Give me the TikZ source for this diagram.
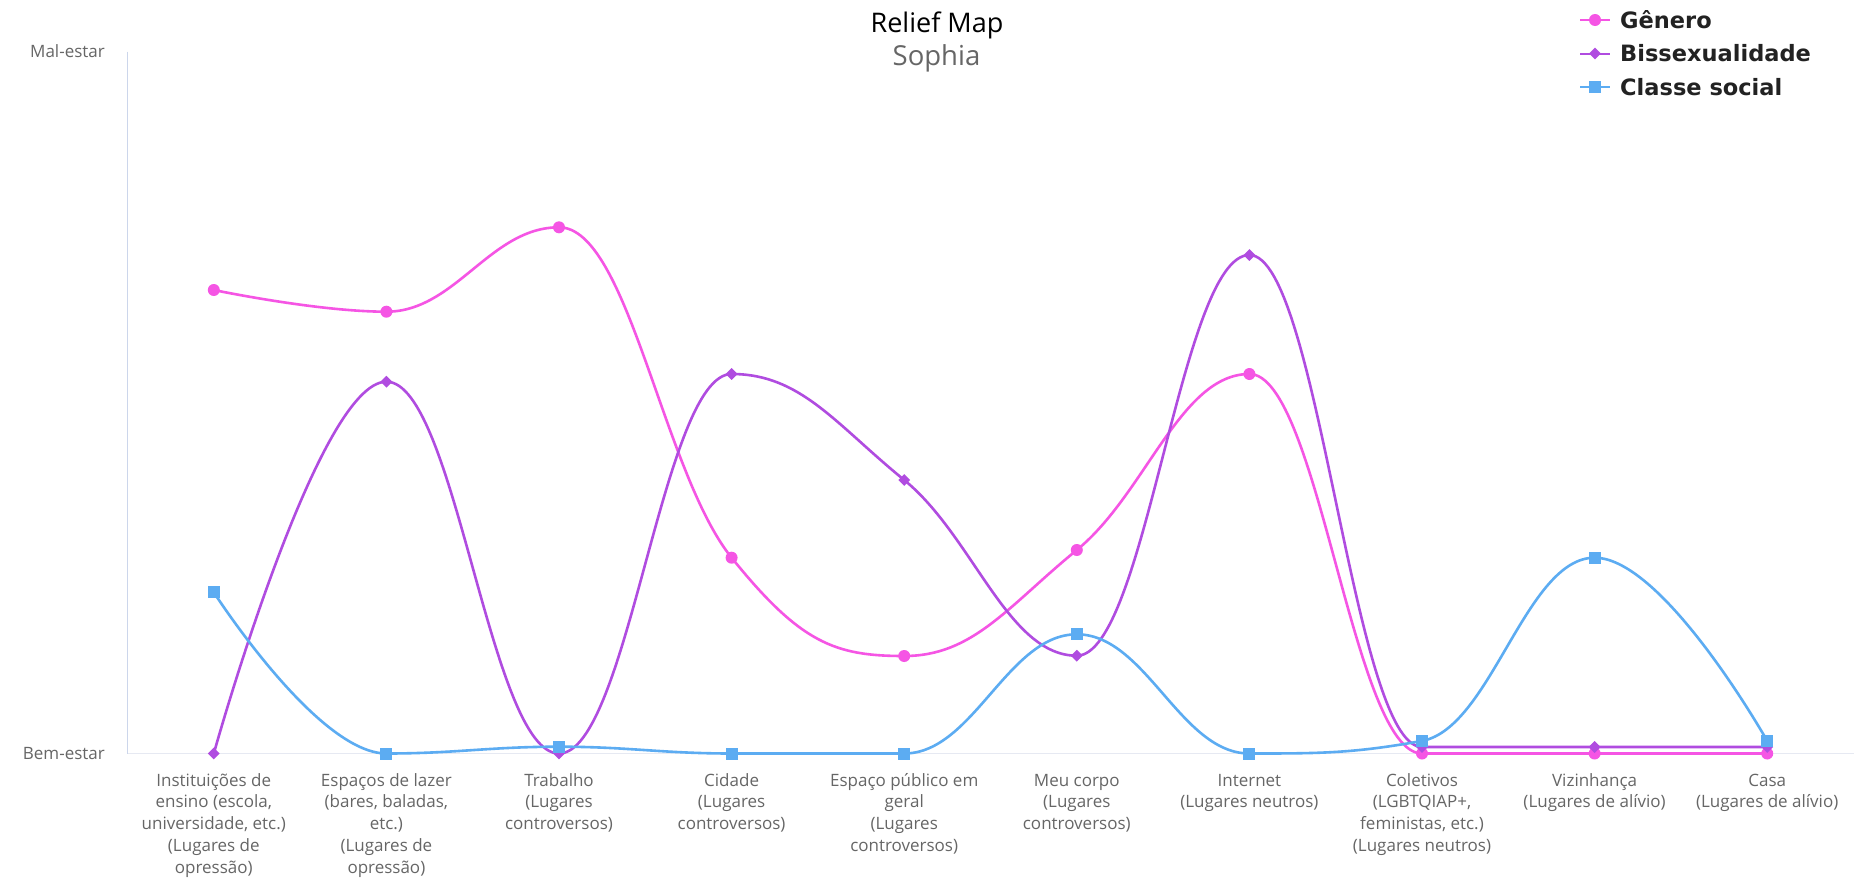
\documentclass[tikz,border=0pt]{standalone}
\usepackage{fontspec}
\setmainfont{Open Sans}
\newfontfamily\legendfont{DejaVu Sans}
\usetikzlibrary{shapes.geometric}

\definecolor{genero}{RGB}{245,85,228}
\definecolor{bissex}{RGB}{176,76,224}
\definecolor{classe}{RGB}{92,172,242}
\definecolor{axisgray}{RGB}{204,214,235}
\definecolor{gridgray}{RGB}{230,233,242}
\definecolor{labelgray}{RGB}{102,102,102}
\definecolor{titledark}{RGB}{34,34,34}

\begin{document}
\begin{tikzpicture}[x=1pt,y=-1pt,
  serie/.style={line width=2.6pt, line cap=round, line join=round},
  gmark/.style={circle, fill=genero, inner sep=0pt, minimum size=12pt},
  bmark/.style={diamond, aspect=1, fill=bissex, inner sep=0pt, minimum width=12pt, minimum height=12pt},
  cmark/.style={rectangle, fill=classe, inner sep=0pt, minimum size=12pt},
  ticklabel/.style={anchor=east, inner sep=0pt, text=labelgray, font=\fontsize{17}{21.7}\selectfont},
  catlabel/.style={anchor=north, inner sep=0pt, align=center, text=labelgray, font=\fontsize{17}{21.7}\selectfont},
  legtext/.style={anchor=west, inner sep=0pt, text=titledark, font=\legendfont\fontsize{22.5}{27}\selectfont\bfseries},
  legline/.style={line width=2pt}
]
\useasboundingbox[fill=white] (0,0) rectangle (1863,878);

% title and subtitle
\node[text=black, font=\fontsize{27}{31}\selectfont] (title) at (937,25) {Relief Map};
\node[text=labelgray, font=\fontsize{27.5}{31}\selectfont] (subtitle) at (936.5,58.5) {Sophia};

% axes
\coordinate (ytop) at (127.5,51.5);
\coordinate (ybot) at (127.5,753.5);
\coordinate (xend) at (1853.5,753.5);
\draw[gridgray, line width=1.2pt] (ybot) -- (xend);
\draw[axisgray, line width=1.2pt] (ytop) -- (ybot);
\node[ticklabel] (mal) at (105,51.5) {Mal-estar};
\node[ticklabel] (bem) at (105,753.5) {Bem-estar};

% category labels
\node[catlabel] (c0) at (213.8,770.8) {\strut Instituições de\\ensino (escola,\\universidade, etc.)\\(Lugares de\\opressão)};
\node[catlabel] (c1) at (386.4,770.8) {\strut Espaços de lazer\\(bares, baladas,\\etc.)\\(Lugares de\\opressão)};
\node[catlabel] (c2) at (559.0,770.8) {\strut Trabalho\\(Lugares\\controversos)};
\node[catlabel] (c3) at (731.6,770.8) {\strut Cidade\\(Lugares\\controversos)};
\node[catlabel] (c4) at (904.2,770.8) {\strut Espaço público em\\geral\\(Lugares\\controversos)};
\node[catlabel] (c5) at (1076.8,770.8) {\strut Meu corpo\\(Lugares\\controversos)};
\node[catlabel] (c6) at (1249.4,770.8) {\strut Internet\\(Lugares neutros)};
\node[catlabel] (c7) at (1422.0,770.8) {\strut Coletivos\\(LGBTQIAP+,\\feministas, etc.)\\(Lugares neutros)};
\node[catlabel] (c8) at (1594.6,770.8) {\strut Vizinhança\\(Lugares de alívio)};
\node[catlabel] (c9) at (1767.2,770.8) {\strut Casa\\(Lugares de alívio)};

% data series: one unit across = one category, one unit up = one pixel
\begin{scope}[shift={(213.8,753.5)}, x=172.6pt, y=1pt]
  % Genero
  \coordinate (g0) at (0,463.5); \coordinate (g1) at (1,441.8);
  \coordinate (g2) at (2,526.2); \coordinate (g3) at (3,195.8);
  \coordinate (g4) at (4,97.5);  \coordinate (g5) at (5,203.5);
  \coordinate (g6) at (6,379.5); \coordinate (g7) at (7,0);
  \coordinate (g8) at (8,0);     \coordinate (g9) at (9,0);
  \draw[serie, genero] (g0) .. controls (0,463.5) and (0.6,441.8) .. (g1)
    .. controls (1.4,441.8) and (1.6,526.2) .. (g2)
    .. controls (2.4,526.2) and (2.6,281.5) .. (g3)
    .. controls (3.4,110.1) and (3.6,97.5) .. (g4)
    .. controls (4.4,97.5) and (4.6,147.1) .. (g5)
    .. controls (5.4,259.9) and (5.6,379.5) .. (g6)
    .. controls (6.4,379.5) and (6.6,0) .. (g7)
    .. controls (7.4,0) and (7.6,0) .. (g8)
    .. controls (8.4,0) and (9,0) .. (g9);
  \foreach \i in {0,...,9} \node[gmark] (gm\i) at (g\i) {};

  % Bissexualidade
  \coordinate (b0) at (0,0);     \coordinate (b1) at (1,371.8);
  \coordinate (b2) at (2,0);     \coordinate (b3) at (3,379.5);
  \coordinate (b4) at (4,273.5); \coordinate (b5) at (5,97.8);
  \coordinate (b6) at (6,498.5); \coordinate (b7) at (7,6.5);
  \coordinate (b8) at (8,6.5);   \coordinate (b9) at (9,6.5);
  \draw[serie, bissex] (b0) .. controls (0,0) and (0.6,371.8) .. (b1)
    .. controls (1.4,371.8) and (1.6,0) .. (b2)
    .. controls (2.4,0) and (2.6,379.5) .. (b3)
    .. controls (3.4,379.5) and (3.6,329.8) .. (b4)
    .. controls (4.4,217.2) and (4.6,97.8) .. (b5)
    .. controls (5.4,97.8) and (5.6,498.5) .. (b6)
    .. controls (6.4,498.5) and (6.6,6.5) .. (b7)
    .. controls (7.4,6.5) and (7.6,6.5) .. (b8)
    .. controls (8.4,6.5) and (9,6.5) .. (b9);
  \foreach \i in {0,...,9} \node[bmark] (bm\i) at (b\i) {};

  % Classe social
  \coordinate (s0) at (0,161.2); \coordinate (s1) at (1,0);
  \coordinate (s2) at (2,6.8);   \coordinate (s3) at (3,0);
  \coordinate (s4) at (4,0);     \coordinate (s5) at (5,119.2);
  \coordinate (s6) at (6,0);     \coordinate (s7) at (7,12.6);
  \coordinate (s8) at (8,195.8); \coordinate (s9) at (9,12.6);
  \draw[serie, classe] (s0) .. controls (0,161.2) and (0.6,0) .. (s1)
    .. controls (1.4,0) and (1.6,6.8) .. (s2)
    .. controls (2.4,6.8) and (2.6,0) .. (s3)
    .. controls (3.4,0) and (3.6,0) .. (s4)
    .. controls (4.4,0) and (4.6,119.2) .. (s5)
    .. controls (5.4,119.2) and (5.6,0) .. (s6)
    .. controls (6.4,0) and (6.6,0) .. (s7)
    .. controls (7.4,25.2) and (7.6,195.8) .. (s8)
    .. controls (8.4,195.8) and (9,12.6) .. (s9);
  \foreach \i in {0,...,9} \node[cmark] (sm\i) at (s\i) {};
\end{scope}

% legend
\coordinate (lgA) at (1580,20);   \coordinate (lgB) at (1610,20);
\coordinate (lbA) at (1580,53.5); \coordinate (lbB) at (1610,53.5);
\coordinate (lcA) at (1580,87);   \coordinate (lcB) at (1610,87);
\draw[legline, genero] (lgA) -- (lgB);
\node[gmark] (lgm) at (1595,20) {};
\node[legtext] (lgt) at (1620,20) {Gênero};
\draw[legline, bissex] (lbA) -- (lbB);
\node[bmark] (lbm) at (1595,53.5) {};
\node[legtext] (lbt) at (1620,53.5) {Bissexualidade};
\draw[legline, classe] (lcA) -- (lcB);
\node[cmark] (lcm) at (1595,87) {};
\node[legtext] (lct) at (1620,87) {Classe social};
\end{tikzpicture}
\end{document}
